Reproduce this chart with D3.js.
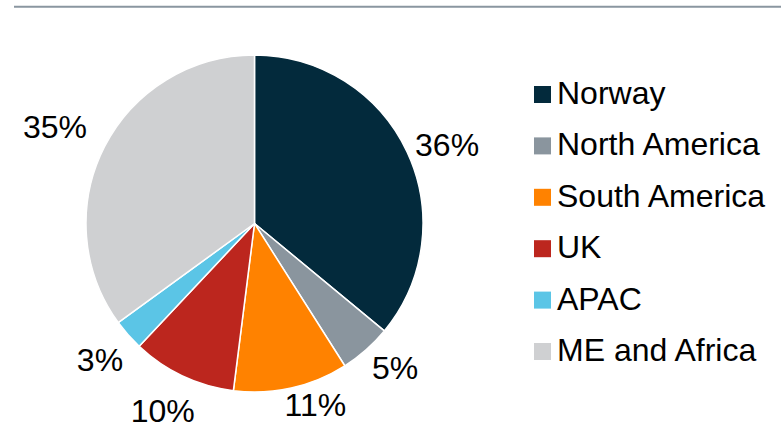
<!DOCTYPE html>
<html>
<head>
<meta charset="utf-8">
<script src="https://cdnjs.cloudflare.com/ajax/libs/d3/7.8.5/d3.min.js"></script>
<style>
  html, body { margin: 0; padding: 0; background: #ffffff; }
  svg { display: block; }
  text { font-family: "Liberation Sans", Arial, sans-serif; fill: #000; }
</style>
</head>
<body>
<svg id="chart" width="781" height="425"></svg>
<script>
// Revenue share by region
const regions = ["Norway", "North America", "South America", "UK", "APAC", "ME and Africa"];
const shares = [36, 5, 11, 10, 3, 35];
const colors = ["#032a3c", "#8a959e", "#ff8200", "#bc261e", "#5bc5e6", "#cfd0d2"];

// Layout
const W = 781, H = 425;
const cx = 254.5, cy = 223.5, radius = 168.5;
const labelRadius = 206;
// per-label tweaks (degrees / px) so the labels sit clear of each other
const labelAngleShift = [3, -3, -6, 1, 0, -1];
const labelRadiusShift = [2, -5, -15, 2, 0, 16];
const fontSize = 32;

const svg = d3.select("#chart");

// rule across the top
svg.append("line")
  .attr("x1", 14).attr("x2", W)
  .attr("y1", 6.8).attr("y2", 6.8)
  .attr("stroke", "#8a96a0")
  .attr("stroke-width", 2);

const data = regions.map((r, i) => ({ region: r, value: shares[i], color: colors[i], i }));

const pie = d3.pie().sort(null).value(d => d.value).startAngle(0).endAngle(2 * Math.PI);
const arc = d3.arc().innerRadius(0).outerRadius(radius);
const arcs = pie(data);

const g = svg.append("g").attr("transform", `translate(${cx},${cy})`);

g.selectAll("path.slice")
  .data(arcs)
  .join("path")
  .attr("class", "slice")
  .attr("d", arc)
  .attr("fill", d => d.data.color)
  .attr("stroke", "#ffffff")
  .attr("stroke-width", 1.5)
  .attr("stroke-linejoin", "round");

// percentage labels outside each slice
function labelPos(d) {
  const a = (d.startAngle + d.endAngle) / 2 + labelAngleShift[d.data.i] * Math.PI / 180;
  const r = labelRadius + labelRadiusShift[d.data.i];
  return [Math.sin(a) * r, -Math.cos(a) * r];
}

g.selectAll("text.pct")
  .data(arcs)
  .join("text")
  .attr("class", "pct")
  .attr("text-anchor", "middle")
  .attr("dy", "0.36em")
  .style("font-size", fontSize + "px")
  .attr("x", d => labelPos(d)[0])
  .attr("y", d => labelPos(d)[1])
  .text(d => d.data.value + "%");

// legend
const legendY = d3.scalePoint().domain(regions).range([94.5, 351.5]);
const legend = svg.append("g");
const items = legend.selectAll("g.item")
  .data(data)
  .join("g")
  .attr("class", "item")
  .attr("transform", d => `translate(534,${legendY(d.region)})`);

items.append("rect")
  .attr("x", 0).attr("y", -8.5)
  .attr("width", 17).attr("height", 17)
  .attr("fill", d => d.color);

items.append("text")
  .attr("x", 23)
  .attr("y", 9.5)
  .style("font-size", fontSize + "px")
  .text(d => d.region);
</script>
</body>
</html>
